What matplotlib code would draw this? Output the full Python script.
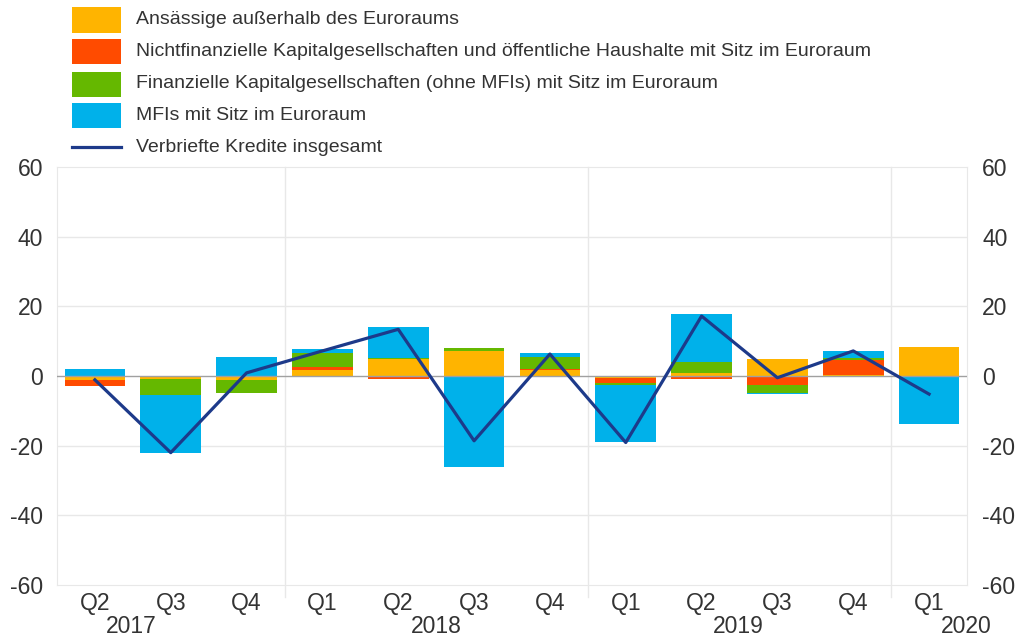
import matplotlib
matplotlib.use("Agg")
import matplotlib.pyplot as plt
import matplotlib.patches as patches
from matplotlib.lines import Line2D
import numpy as np

plt.rcParams['font.family'] = ['Liberation Sans', 'DejaVu Sans']
plt.rcParams['axes.unicode_minus'] = False

# --- Data ---
quarters = ['Q2', 'Q3', 'Q4', 'Q1', 'Q2', 'Q3', 'Q4', 'Q1', 'Q2', 'Q3', 'Q4', 'Q1']
years = ['2017', '2018', '2019', '2020']

non_euro = [-1.1, -1.0, -1.2, 1.7, 4.8, 7.2, 1.7, -0.7, 1.0, 5.0, 0.3, 8.4]
nfc_gov = [-1.7, 0.0, 0.0, 0.9, -0.8, 0.0, 0.2, -1.2, -0.8, -2.6, 4.3, 0.0]
fin_corp = [0.0, -4.4, -3.6, 4.1, 0.4, 0.7, 3.5, -0.8, 2.9, -2.2, 0.5, 0.0]
mfis = [1.9, -16.8, 5.4, 1.0, 8.9, -26.2, 1.2, -16.2, 13.8, -0.5, 2.2, -13.7]
total = [-1.1, -22.0, 0.9, 7.2, 13.4, -18.6, 6.3, -19.1, 17.2, -0.5, 7.2, -5.2]

labels = ['Ansässige außerhalb des Euroraums',
          'Nichtfinanzielle Kapitalgesellschaften und öffentliche Haushalte mit Sitz im Euroraum',
          'Finanzielle Kapitalgesellschaften (ohne MFIs) mit Sitz im Euroraum',
          'MFIs mit Sitz im Euroraum',
          'Verbriefte Kredite insgesamt']
colors = ['#FFB400', '#FF4B00', '#65B800', '#00B1EA']
line_color = '#1D3A8A'
grid_color = '#E8E8E8'
text_color = '#333333'

W, H = 1015, 639
fig = plt.figure(figsize=(W / 100, H / 100), dpi=100)
ax = fig.add_axes([57 / W, 54 / H, 910 / W, 418 / H])

x = np.arange(len(quarters))
pos_base = np.zeros(len(x))
neg_base = np.zeros(len(x))
for series, color in zip([non_euro, nfc_gov, fin_corp, mfis], colors):
    vals = np.array(series)
    pos = np.where(vals > 0, vals, 0)
    neg = np.where(vals < 0, vals, 0)
    ax.bar(x, pos, bottom=pos_base, width=0.8, color=color, zorder=2)
    ax.bar(x, neg, bottom=neg_base, width=0.8, color=color, zorder=2)
    pos_base += pos
    neg_base += neg

ax.plot(x, total, color=line_color, linewidth=2.3, zorder=4)
ax.axhline(0, color='#A0A0A0', linewidth=1, zorder=3)

ax.set_xlim(-0.5, len(x) - 0.5)
ax.set_ylim(-60, 60)
ax.set_yticks(range(-60, 61, 20))
for yv in [-40, -20, 20, 40]:
    ax.axhline(yv, color=grid_color, linewidth=1, zorder=1)

# year separators, running a bit below the axis
for sep in [2.5, 6.5, 10.5]:
    ax.add_line(Line2D([sep, sep], [-63.5, 60], color=grid_color, linewidth=1,
                       clip_on=False, zorder=1))

for spine in ax.spines.values():
    spine.set_color(grid_color)

ax.set_xticks(x)
ax.set_xticklabels(quarters, fontsize=16.5, color=text_color)
ax.tick_params(axis='x', length=0, pad=5)
ax.tick_params(axis='y', length=0, pad=10, labelsize=16.5, labelcolor=text_color)

ax2 = ax.twinx()
ax2.set_ylim(-60, 60)
ax2.set_yticks(range(-60, 61, 20))
ax2.tick_params(axis='y', length=0, pad=11, labelsize=16.5, labelcolor=text_color)
for spine in ax2.spines.values():
    spine.set_visible(False)

# year labels
year_pos = [0.48, 4.5, 8.48, 11.49]
for yr, xp in zip(years, year_pos):
    ax.text(xp, -71.8, yr, ha='center', va='center', fontsize=16.5, color=text_color,
            clip_on=False)

# legend, drawn by hand in pixel positions
row_y = [20, 52, 84, 116, 147]
for i, lab in enumerate(labels):
    yc = 1 - row_y[i] / H
    if i < 4:
        fig.add_artist(patches.Rectangle((72 / W, yc - 12.5 / H), 49 / W, 25 / H,
                                         facecolor=colors[i], edgecolor='none',
                                         transform=fig.transFigure))
    else:
        fig.add_artist(Line2D([72 / W, 121 / W], [yc, yc], color=line_color,
                              linewidth=2.3, transform=fig.transFigure))
    fig.text(136 / W, yc, lab, ha='left', va='center', fontsize=14,
             color=text_color)

fig.savefig('out.png', dpi=100)
